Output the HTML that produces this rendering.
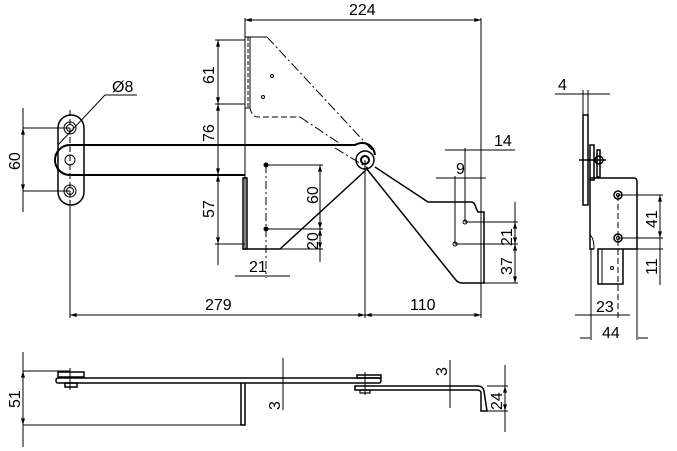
<!DOCTYPE html>
<html><head><style>
html,body{margin:0;padding:0;background:#fff;}
svg{display:block;}
text{font-family:"Liberation Sans Narrow","Liberation Sans",sans-serif;font-size:16px;fill:#000;}
</style></head><body>
<svg width="677" height="451" viewBox="0 0 677 451" xmlns="http://www.w3.org/2000/svg" fill="none" stroke="#000" stroke-width="1">
<defs>
<marker id="a" viewBox="0 0 10 6" refX="10" refY="3" markerWidth="8" markerHeight="4" markerUnits="userSpaceOnUse" orient="auto-start-reverse">
<path d="M10 3 L0 0 L0 6 Z" fill="#000" stroke="none"/>
</marker>
</defs>
<g marker-start="url(#a)" marker-end="url(#a)">
<line x1="245" y1="20" x2="481" y2="20"/>
<line x1="70" y1="315" x2="365" y2="315"/>
<line x1="365" y1="315" x2="481" y2="315"/>
<line x1="218" y1="40" x2="218" y2="104"/>
<line x1="218" y1="104" x2="218" y2="175"/>
<line x1="218" y1="175" x2="218" y2="244"/>
<line x1="23" y1="128" x2="23" y2="191"/>
<line x1="320" y1="165" x2="320" y2="229"/>
<line x1="320" y1="229" x2="320" y2="249"/>
<line x1="515" y1="222" x2="515" y2="244"/>
<line x1="515" y1="244" x2="515" y2="283"/>
<line x1="660" y1="195" x2="660" y2="238"/>
<line x1="23" y1="371" x2="23" y2="425"/>
<line x1="505" y1="386" x2="505" y2="411"/>
</g>
<line x1="245" y1="18" x2="245" y2="250"/>
<line x1="481" y1="18" x2="481" y2="318"/>
<text x="349" y="15" stroke="none">224</text>
<rect x="58" y="115" width="26" height="90" rx="13" stroke-width="1.5"/>
<circle cx="70" cy="128" r="6"/><circle cx="70" cy="128" r="3.5"/>
<circle cx="70" cy="191" r="6"/><circle cx="70" cy="191" r="3.5"/>
<circle cx="70" cy="160" r="5"/>
<line x1="70" y1="110" x2="70" y2="205" stroke-dasharray="6,3"/>
<line x1="70" y1="205" x2="70" y2="318"/>
<path d="M70 145 L355 145 A13 13 0 0 1 375 155 M70 175 L245 175 M70 145 A15 15 0 0 0 70 175" stroke-width="2"/>
<circle cx="365" cy="160" r="9" stroke-width="1.5"/>
<circle cx="365" cy="160" r="4" stroke-width="2"/>
<path d="M375 167 L428 202 L472 202 Q475 203 476 208 L478 212 L484 212 L484 283 L462 283 Q458 283 455 279 L366 168" stroke-width="1.5"/>
<line x1="481" y1="212" x2="481" y2="283"/>
<path d="M243 178 L247 178 L247 249 L243 249 Z" stroke-width="1.5"/>
<path d="M247 249 L280 249 L366 170" stroke-width="1.5"/>
<path d="M245 37 L250 37 L250 108 L245 108 Z"/>
<line x1="248" y1="37" x2="248" y2="108" stroke-dasharray="4,2"/>
<path d="M250 37 L267 37"/>
<line x1="267" y1="37" x2="372" y2="150" stroke-dasharray="10,3,2,3"/>
<path d="M250 108 Q252 117 258 117 L300 117" stroke-dasharray="6,3"/>
<line x1="300" y1="117" x2="345" y2="147" stroke-dasharray="10,3,2,3"/>
<line x1="335" y1="148" x2="368" y2="168" stroke-dasharray="10,3,2,3"/>
<circle cx="272" cy="76" r="1.5"/><circle cx="263" cy="97" r="1.5"/>
<circle cx="266" cy="165" r="2" fill="#000"/><circle cx="266" cy="229" r="2" fill="#000"/>
<line x1="266" y1="165" x2="266" y2="278" stroke-dasharray="8,3,2,3"/>
<line x1="266" y1="165" x2="323" y2="165"/><line x1="266" y1="229" x2="323" y2="229"/>
<line x1="258" y1="249" x2="323" y2="249"/>
<line x1="320" y1="249" x2="320" y2="262"/>
<text transform="translate(318,204) rotate(-90)" stroke="none">60</text>
<text transform="translate(318,250) rotate(-90)" stroke="none">20</text>
<line x1="235" y1="276" x2="290" y2="276"/>
<text x="249" y="272" stroke="none">21</text>
<line x1="218" y1="244" x2="218" y2="265"/>
<line x1="215" y1="40" x2="245" y2="40"/>
<line x1="215" y1="104" x2="245" y2="104"/>
<line x1="215" y1="175" x2="245" y2="175"/>
<line x1="215" y1="244" x2="245" y2="244"/>
<text transform="translate(214,84) rotate(-90)" stroke="none">61</text>
<text transform="translate(214,142) rotate(-90)" stroke="none">76</text>
<text transform="translate(214,218) rotate(-90)" stroke="none">57</text>
<line x1="23" y1="108" x2="23" y2="212"/>
<line x1="23" y1="128" x2="70" y2="128"/><line x1="23" y1="191" x2="70" y2="191"/>
<text transform="translate(20,170) rotate(-90)" stroke="none">60</text>
<path d="M58 145 L105 95 L137 95"/>
<text x="112" y="92" stroke="none">Ø8</text>
<line x1="365" y1="160" x2="365" y2="318"/>
<text x="205" y="310" stroke="none">279</text>
<text x="410" y="310" stroke="none">110</text>
<line x1="445" y1="150" x2="515" y2="150"/>
<line x1="465" y1="148" x2="465" y2="222"/>
<text x="494" y="146" stroke="none">14</text>
<line x1="436" y1="178" x2="486" y2="178"/>
<line x1="455" y1="176" x2="455" y2="244"/>
<text x="456" y="174" stroke="none">9</text>
<circle cx="465" cy="222" r="2"/><circle cx="455" cy="244" r="2"/>
<line x1="465" y1="222" x2="518" y2="222"/><line x1="455" y1="244" x2="518" y2="244"/>
<line x1="484" y1="283" x2="518" y2="283"/>
<line x1="515" y1="202" x2="515" y2="222"/>
<text transform="translate(512,246) rotate(-90)" stroke="none">21</text>
<text transform="translate(512,275) rotate(-90)" stroke="none">37</text>
<line x1="555" y1="94" x2="610" y2="94"/>
<line x1="583" y1="90" x2="583" y2="115"/><line x1="588" y1="90" x2="588" y2="115"/>
<text x="558" y="90" stroke="none">4</text>
<rect x="583" y="115" width="5" height="90" stroke-width="1.5"/>
<rect x="590" y="145" width="4" height="35" stroke-width="1.5"/>
<rect x="597" y="150" width="3" height="27" stroke-width="1.5"/>
<circle cx="599" cy="160" r="4" stroke-width="1.5"/>
<line x1="579" y1="160" x2="606" y2="160" stroke-width="1.5"/>
<path d="M590 178 L634 178 Q637 178 637 182 L637 249 L598 249 L598 284 L623 284 L623 249 M590 178 L590 249 L594 249" stroke-width="1.5"/>
<path d="M594 249 Q594 238 590 235"/>
<line x1="602" y1="249" x2="602" y2="284"/>
<circle cx="618" cy="195" r="4" stroke-width="1.5"/><circle cx="618" cy="195" r="1.5"/>
<circle cx="618" cy="238" r="4" stroke-width="1.5"/><circle cx="618" cy="238" r="1.5"/>
<circle cx="612" cy="268" r="1.5"/>
<line x1="618" y1="195" x2="618" y2="318" stroke-dasharray="6,3"/>
<line x1="618" y1="195" x2="663" y2="195"/><line x1="618" y1="238" x2="663" y2="238"/>
<line x1="637" y1="249" x2="663" y2="249"/>
<line x1="660" y1="238" x2="660" y2="285"/>
<text transform="translate(657,228) rotate(-90)" stroke="none">41</text>
<text transform="translate(657,275) rotate(-90)" stroke="none">11</text>
<line x1="591" y1="249" x2="591" y2="340"/><line x1="637" y1="249" x2="637" y2="340"/>
<line x1="575" y1="315" x2="630" y2="315"/>
<text x="596" y="312" stroke="none">23</text>
<line x1="580" y1="338" x2="590" y2="338"/><line x1="638" y1="338" x2="648" y2="338"/>
<text x="602" y="338" stroke="none">44</text>
<line x1="23" y1="352" x2="23" y2="447"/>
<line x1="23" y1="371" x2="70" y2="371"/>
<line x1="23" y1="425" x2="243" y2="425"/>
<text transform="translate(20,408) rotate(-90)" stroke="none">51</text>
<rect x="56" y="378" width="325" height="5" rx="2" stroke-width="1.5"/>
<rect x="58" y="372" width="26" height="5" stroke-width="1.5"/>
<rect x="65" y="383" width="12" height="4" stroke-width="1.5"/>
<line x1="70" y1="368" x2="70" y2="390"/>
<path d="M241 383 L241 425 L245 425 L245 383" stroke-width="1.5"/>
<rect x="357" y="375" width="24" height="3" stroke-width="1.5"/>
<path d="M355 386 L478 386 Q483 386 484 391 L487 411 L481 411 L481 392 Q480 390 477 390 L355 390 Z" stroke-width="1.5"/>
<rect x="360" y="390" width="10" height="3" stroke-width="1.2"/>
<line x1="365" y1="372" x2="365" y2="395"/>
<line x1="283" y1="358" x2="283" y2="410"/>
<text transform="translate(280,410) rotate(-90)" stroke="none">3</text>
<line x1="450" y1="360" x2="450" y2="408"/>
<text transform="translate(447,376) rotate(-90)" stroke="none">3</text>
<line x1="487" y1="386" x2="508" y2="386"/><line x1="487" y1="411" x2="508" y2="411"/>
<line x1="505" y1="365" x2="505" y2="432"/>
<text transform="translate(502,410) rotate(-90)" stroke="none">24</text>
</svg>
</body></html>
